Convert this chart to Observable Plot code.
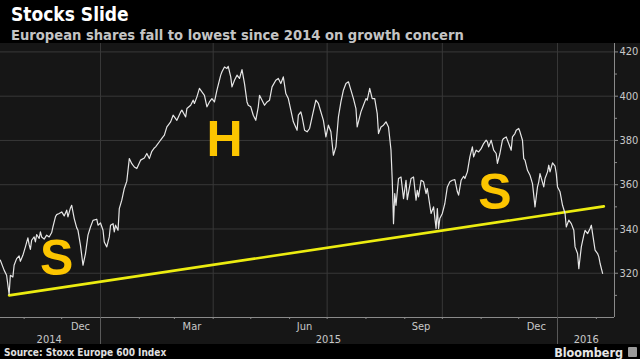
<!DOCTYPE html>
<html><head><meta charset="utf-8">
<script src="https://cdn.jsdelivr.net/npm/d3@7"></script>
<script src="https://cdn.jsdelivr.net/npm/@observablehq/plot@0.6"></script>
<style>
html,body{margin:0;padding:0;background:#000;}
body{width:640px;height:359px;overflow:hidden;position:relative;font-family:"DejaVu Sans Condensed","DejaVu Sans",sans-serif;}
.t{position:absolute;white-space:nowrap;font-weight:bold;line-height:1;}
#title{left:11px;top:5px;font-size:19px;color:#fff;}
#subtitle{left:11px;top:28px;font-size:14.6px;color:#c4c4c4;}
#chart{position:absolute;left:0;top:43px;}
#source{left:4px;top:348px;font-size:10px;color:#e0e0e0;}
#brand{right:17px;top:347px;font-size:12.5px;color:#e6e6e6;}
#icon{position:absolute;right:3px;top:347px;width:9px;height:10px;background:#9a9a9a;border-radius:1px;}
</style>
</head><body>
<div class="t" id="title">Stocks Slide</div>
<div class="t" id="subtitle">European shares fall to lowest since 2014 on growth concern</div>
<div id="chart"></div>
<div class="t" id="source">Source: Stoxx Europe 600 Index</div>
<div class="t" id="brand">Bloomberg</div>
<div id="icon"></div>
<script>
const dates = ["2014-10-13","2014-10-16","2014-10-18","2014-10-20","2014-10-21","2014-10-23","2014-10-24","2014-10-26","2014-10-28","2014-10-29","2014-10-31","2014-11-02","2014-11-04","2014-11-05","2014-11-06","2014-11-07","2014-11-09","2014-11-10","2014-11-11","2014-11-13","2014-11-14","2014-11-15","2014-11-17","2014-11-19","2014-11-21","2014-11-23","2014-11-24","2014-11-26","2014-11-27","2014-11-29","2014-12-01","2014-12-03","2014-12-05","2014-12-06","2014-12-08","2014-12-09","2014-12-11","2014-12-13","2014-12-14","2014-12-16","2014-12-18","2014-12-20","2014-12-22","2014-12-24","2014-12-26","2014-12-29","2014-12-30","2015-01-01","2015-01-03","2015-01-04","2015-01-06","2015-01-08","2015-01-09","2015-01-11","2015-01-12","2015-01-13","2015-01-15","2015-01-16","2015-01-18","2015-01-20","2015-01-22","2015-01-24","2015-01-26","2015-01-28","2015-01-30","2015-02-02","2015-02-05","2015-02-07","2015-02-09","2015-02-11","2015-02-13","2015-02-14","2015-02-17","2015-02-19","2015-02-21","2015-02-23","2015-02-26","2015-02-28","2015-03-02","2015-03-03","2015-03-06","2015-03-07","2015-03-10","2015-03-11","2015-03-14","2015-03-16","2015-03-17","2015-03-19","2015-03-21","2015-03-23","2015-03-25","2015-03-27","2015-03-29","2015-03-31","2015-04-02","2015-04-04","2015-04-07","2015-04-08","2015-04-10","2015-04-12","2015-04-13","2015-04-15","2015-04-16","2015-04-18","2015-04-20","2015-04-22","2015-04-24","2015-04-26","2015-04-28","2015-04-29","2015-05-01","2015-05-03","2015-05-05","2015-05-07","2015-05-08","2015-05-10","2015-05-12","2015-05-14","2015-05-16","2015-05-18","2015-05-21","2015-05-23","2015-05-25","2015-05-27","2015-05-29","2015-05-31","2015-06-02","2015-06-04","2015-06-07","2015-06-08","2015-06-10","2015-06-11","2015-06-13","2015-06-15","2015-06-17","2015-06-19","2015-06-22","2015-06-24","2015-06-28","2015-06-30","2015-07-02","2015-07-04","2015-07-06","2015-07-08","2015-07-10","2015-07-12","2015-07-14","2015-07-16","2015-07-18","2015-07-20","2015-07-22","2015-07-24","2015-07-25","2015-07-28","2015-07-30","2015-08-01","2015-08-02","2015-08-04","2015-08-06","2015-08-08","2015-08-10","2015-08-11","2015-08-13","2015-08-15","2015-08-17","2015-08-19","2015-08-21","2015-08-22","2015-08-23","2015-08-24","2015-08-25","2015-08-27","2015-08-29","2015-08-31","2015-09-02","2015-09-03","2015-09-06","2015-09-08","2015-09-10","2015-09-11","2015-09-12","2015-09-14","2015-09-16","2015-09-18","2015-09-19","2015-09-22","2015-09-24","2015-09-26","2015-09-27","2015-09-28","2015-09-29","2015-10-01","2015-10-03","2015-10-05","2015-10-07","2015-10-09","2015-10-11","2015-10-13","2015-10-14","2015-10-16","2015-10-18","2015-10-19","2015-10-21","2015-10-23","2015-10-25","2015-10-26","2015-10-28","2015-10-30","2015-11-01","2015-11-03","2015-11-05","2015-11-06","2015-11-07","2015-11-09","2015-11-11","2015-11-13","2015-11-14","2015-11-16","2015-11-18","2015-11-19","2015-11-21","2015-11-23","2015-11-25","2015-11-26","2015-11-28","2015-11-29","2015-12-01","2015-12-02","2015-12-04","2015-12-05","2015-12-06","2015-12-08","2015-12-10","2015-12-12","2015-12-13","2015-12-14","2015-12-16","2015-12-17","2015-12-18","2015-12-21","2015-12-22","2015-12-24","2015-12-25","2015-12-26","2015-12-28","2015-12-30","2015-12-31","2016-01-01","2016-01-03","2016-01-05","2016-01-07","2016-01-08","2016-01-10","2016-01-12","2016-01-14","2016-01-15","2016-01-17","2016-01-18","2016-01-20","2016-01-22","2016-01-23","2016-01-25","2016-01-27","2016-01-28","2016-01-29","2016-01-31","2016-02-02","2016-02-03","2016-02-04","2016-02-06"];
const values = [325.9,321.4,319.1,310.4,319.1,318.3,323.6,326.6,327.8,325.4,328.1,331.9,336.0,332.9,330.8,334.9,336.4,334.2,337.5,335.7,338.7,336.4,335.4,337.2,336.4,338.4,340.9,345.5,346.5,347.0,347.7,345.9,348.5,345.5,349.5,350.7,344.7,340.5,339.4,332.6,323.6,328.9,337.2,340.9,343.9,344.4,341.7,342.7,339.4,334.1,331.9,336.4,341.7,342.4,338.7,341.7,339.4,349.2,353.0,358.3,361.6,371.8,369.5,368.0,367.3,371.1,372.1,374.1,371.8,375.1,376.6,377.1,379.4,380.9,382.4,386.1,388.4,391.4,389.9,389.1,392.9,393.7,390.6,394.4,395.9,398.2,396.7,399.7,403.5,401.9,400.4,395.2,397.4,398.9,397.4,402.7,409.5,411.0,413.2,412.5,413.5,408.7,404.2,407.2,409.5,408.0,412.0,405.7,397.4,395.9,395.2,391.4,389.1,395.2,400.4,398.2,395.9,397.4,398.2,404.2,407.2,408.0,405.7,408.7,401.2,398.9,393.7,388.4,384.6,391.4,392.9,390.6,384.6,383.9,385.4,390.6,398.2,396.7,389.1,381.6,386.9,383.9,373.3,377.1,390.6,397.4,402.7,405.7,406.5,402.7,398.9,394.4,386.1,392.9,395.9,398.9,398.2,403.5,398.9,398.9,392.1,383.1,386.1,386.9,388.4,386.1,375.6,362.0,342.4,356.0,350.7,362.8,363.5,353.7,362.0,353.3,362.8,363.5,353.0,357.5,354.5,362.0,361.3,356.0,358.3,347.0,350.0,340.2,349.2,340.2,344.7,347.0,351.5,359.0,361.3,362.0,362.3,356.8,355.3,362.0,363.8,362.8,365.8,372.6,377.1,372.6,375.6,374.8,376.3,378.6,380.1,379.4,377.1,380.1,375.6,374.1,369.6,374.1,380.1,380.9,381.6,378.6,375.6,381.6,383.1,384.6,385.4,383.9,380.1,371.8,371.1,366.5,364.3,360.5,355.3,350.0,359.0,361.3,365.0,359.0,362.8,365.8,368.8,365.8,369.9,368.4,365.0,359.0,356.8,350.7,347.0,340.9,344.0,342.4,339.4,331.9,328.9,322.1,331.9,337.2,339.4,337.9,340.2,341.7,337.9,330.4,328.9,327.4,324.4,319.9];

const trendDates = ["2014-10-20","2016-02-07"];
const trendValues = [310.0, 350.2];

const annLabels = ["S","H","S"];
const annDates = ["2014-11-27","2015-04-10","2015-11-12"];
const annValues = [326.6, 380.3, 356.2];

const yTicks = [320,340,360,380,400,420];
const yMinor = [310,330,350,370,390,410];
const gridDates = ["2015-01-01","2015-04-01","2015-07-01","2015-10-01","2016-01-01"];
const monthStarts = ["2014-11-01","2014-12-01","2015-01-01","2015-02-01","2015-03-01","2015-04-01","2015-05-01","2015-06-01","2015-07-01","2015-08-01","2015-09-01","2015-10-01","2015-11-01","2015-12-01","2016-01-01","2016-02-01"];
const monthLabels = ["Dec","Mar","Jun","Sep","Dec"];
const monthLabelDates = ["2014-12-16","2015-03-15","2015-06-13","2015-09-14","2015-12-15"];
const yearLabels = ["2014","2015","2016"];
const yearLabelDates = ["2014-11-21","2015-07-02","2016-01-24"];
const yearBounds = ["2015-01-01","2016-01-01"];
const xDomain = ["2014-10-13T03:00:00Z","2016-02-15T12:00:00Z"];
const yDomain = [300, 423.8];

const P = s => new Date(s);
const series = dates.map((d,i)=>({date:P(d), value:values[i]}));
const trend = trendDates.map((d,i)=>({date:P(d), value:trendValues[i]}));
const ann = annLabels.map((t,i)=>({date:P(annDates[i]), value:annValues[i], text:t}));
const months = monthLabels.map((t,i)=>({date:P(monthLabelDates[i]), text:t}));
const years = yearLabels.map((t,i)=>({date:P(yearLabelDates[i]), text:t}));

const axisColor = "#8a8a8a";
const gridColor = "#383838";
const labelColor = "#c8c8c8";

const chart = Plot.plot({
  width: 640, height: 301,
  marginLeft: 0, marginRight: 26, marginTop: 0, marginBottom: 27,
  style: {background:"#161616", color: labelColor, fontFamily:'"DejaVu Sans Condensed","DejaVu Sans",sans-serif', fontSize:"11px", overflow:"visible"},
  x: {type:"utc", domain: xDomain.map(P), axis: null},
  y: {domain: yDomain, axis: null},
  marks: [
    Plot.gridY(yTicks, {stroke: gridColor, strokeOpacity: 1}),
    Plot.gridX(gridDates.map(P), {stroke: gridColor, strokeOpacity: 1}),
    Plot.ruleY([yDomain[0]], {stroke: axisColor}),
    Plot.ruleX([P(xDomain[1])], {stroke: axisColor}),
    Plot.axisX(monthStarts.map(P), {tickSize: 2, text: null, label: null, stroke: axisColor}),
    Plot.axisX(yearBounds.map(P), {tickSize: 27, text: null, label: null, stroke: "#5a5a5a"}),
    Plot.text(months, {x:"date", text:"text", frameAnchor:"bottom", lineAnchor:"bottom", dy: 12, fill: labelColor, fontSize: 11}),
    Plot.text(years, {x:"date", text:"text", frameAnchor:"bottom", lineAnchor:"bottom", dy: 25, fill: labelColor, fontSize: 11}),
    Plot.axisY(yTicks, {anchor:"right", tickSize: 3, tickPadding: 2, label: null, stroke: axisColor, fill: labelColor, fontSize: 11}),
    Plot.axisY(yMinor, {anchor:"right", tickSize: 2, text: null, label: null, stroke: axisColor}),
    Plot.line(trend, {x:"date", y:"value", stroke:"#ecec10", strokeWidth: 2.6}),
    Plot.line(series, {x:"date", y:"value", stroke:"#e6e6e6", strokeWidth: 1.2}),
    Plot.text(ann, {x:"date", y:"value", text:"text", fill:"#fcc500", fontSize: 50, fontWeight:"bold", fontFamily:'"Liberation Sans",Arial,sans-serif', lineAnchor:"middle"})
  ]
});
document.getElementById("chart").appendChild(chart);
</script>
</body></html>
